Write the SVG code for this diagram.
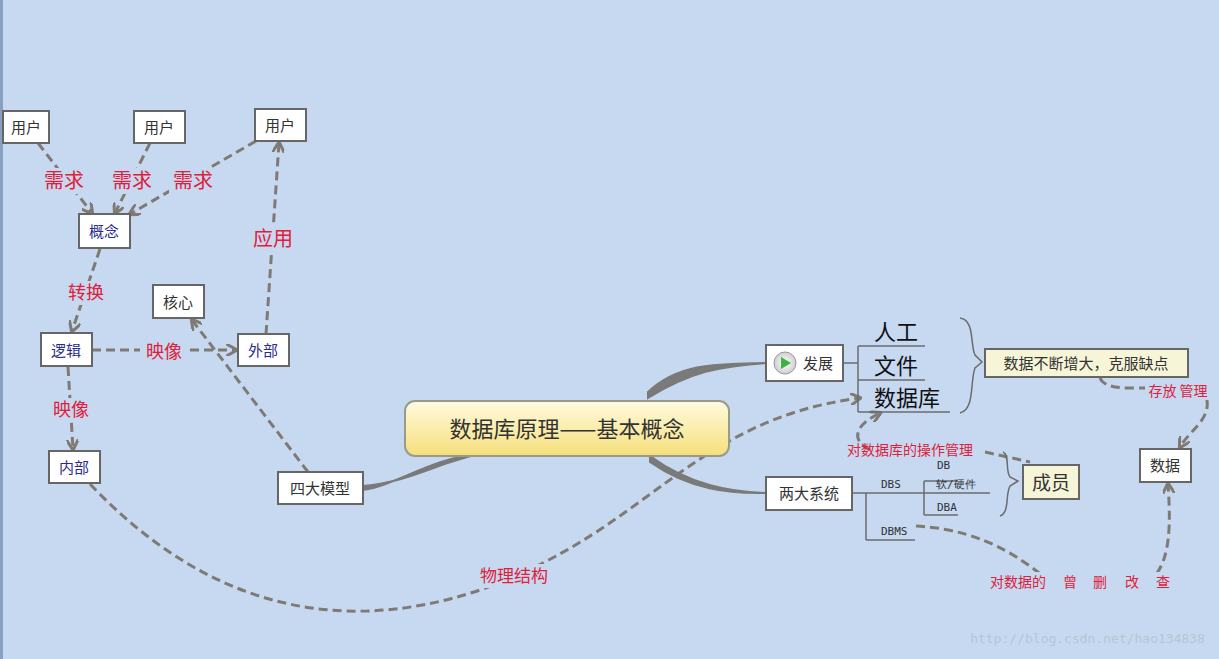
<svg xmlns="http://www.w3.org/2000/svg" width="1219" height="659" viewBox="0 0 1219 659">
<defs>
<linearGradient id="cg" x1="0" y1="0" x2="0" y2="1"><stop offset="0" stop-color="#fffbe0"/><stop offset="1" stop-color="#f6df7a"/></linearGradient>
<radialGradient id="pg"><stop offset="0" stop-color="#fff"/><stop offset="1" stop-color="#cfcfcf"/></radialGradient>
<marker id="ah" viewBox="0 0 10 10" refX="8" refY="5" markerWidth="4" markerHeight="4" orient="auto"><path d="M0,0 L9,5 L0,10" fill="none" stroke="#7f7a74" stroke-width="2.5"/></marker>
</defs>
<style>
.n{fill:#fff;stroke:#666;stroke-width:2}
.y{fill:#f6f5d8;stroke:#666;stroke-width:2}
.t{font-family:"Noto Sans CJK SC",sans-serif;font-size:15px;fill:#333;text-anchor:middle}
.b{fill:#2b2b8c}
.r{font-family:"Noto Sans CJK SC",sans-serif;fill:#e0203a;text-anchor:middle}
.d{fill:none;stroke:#7f7a74;stroke-width:3;stroke-dasharray:9 5}
.s{fill:none;stroke:#6c6c6c;stroke-width:1.5}
.m{font-family:"DejaVu Sans Mono",monospace;font-size:11px;fill:#333}
.bg{fill:#c6d9f1}
</style>
<rect width="1219" height="659" fill="#c6d9f1"/>
<rect width="3" height="659" fill="#8aa0c0"/>
<g id="connectors">
<path d="M38,143 L92,213" class="d" marker-end="url(#ah)"/>
<path d="M150,143 L115,213" class="d" marker-end="url(#ah)"/>
<path d="M256,141 L130,214" class="d" marker-end="url(#ah)"/>
<path d="M100,249 L72,331" class="d" marker-end="url(#ah)"/>
<path d="M92,350 L236,350" class="d" marker-end="url(#ah)"/>
<path d="M68,367 L73,449" class="d" marker-end="url(#ah)"/>
<path d="M266,334 L279,143" class="d" marker-end="url(#ah)"/>
<path d="M308,472 L192,320" class="d" marker-end="url(#ah)"/>
<path d="M90,484 C200,600 330,640 480,590 C650,530 690,420 860,398" class="d" marker-end="url(#ah)"/>
<path d="M870,450 C850,440 855,425 880,413" class="d" marker-end="url(#ah)"/>
<path d="M985,452 L1030,462" class="d"/>
<path d="M1100,378 C1105,390 1130,388 1145,388" class="d"/>
<path d="M1207,400 C1210,420 1190,430 1180,447" class="d" marker-end="url(#ah)"/>
<path d="M916,526 C990,530 1030,565 1060,590" class="d"/>
<path d="M1120,590 C1170,590 1172,540 1168,484" class="d" marker-end="url(#ah)"/>
<path d="M363,490 C400,484 430,458 476,455 C440,462 410,482 363,486Z" fill="#7a7a7a" stroke="#7a7a7a" stroke-width="2"/>
<path d="M648,392 C680,362 720,364 766,363 C720,366 690,372 648,398Z" fill="#7a7a7a" stroke="#7a7a7a" stroke-width="2"/>
<path d="M650,456 C690,485 730,492 766,493 C730,494 690,490 650,462Z" fill="#7a7a7a" stroke="#7a7a7a" stroke-width="2"/>
<path d="M843,363 L858,363 M858,346 L858,412 M858,346 L925,346 M858,380 L925,380 M858,412 L950,412" class="s"/>
<path d="M852,493 L866,493 M866,493 L866,540 M866,493 L924,493 M924,481 L924,515 M924,481 L958,481 M924,493 L990,493 M924,515 L958,515 M866,540 L915,540" class="s"/>
<path d="M960,318 C975,320 970,345 975,355 L982,362 L975,368 C970,380 975,410 960,413" class="s"/>
<path d="M1003,452 C1010,455 1005,470 1010,477 L1018,481 L1010,486 C1005,495 1010,512 1000,516" class="s"/>
</g>
<g id="u1"><rect x="3" y="111" width="46" height="32" class="n"/><text x="26" y="133" class="t">用户</text></g>
<g id="u2"><rect x="134" y="111" width="51" height="32" class="n"/><text x="159" y="133" class="t">用户</text></g>
<g id="u3"><rect x="255" y="109" width="51" height="32" class="n"/><text x="280" y="131" class="t">用户</text></g>
<g id="gn"><rect x="79" y="214" width="51" height="34" class="n"/><text x="104" y="237" class="t b">概念</text></g>
<g id="hx"><rect x="153" y="285" width="51" height="33" class="n"/><text x="178" y="308" class="t">核心</text></g>
<g id="lj"><rect x="41" y="333" width="51" height="33" class="n"/><text x="66" y="356" class="t b">逻辑</text></g>
<g id="wb"><rect x="238" y="334" width="51" height="32" class="n"/><text x="263" y="356" class="t b">外部</text></g>
<g id="nb"><rect x="49" y="451" width="51" height="32" class="n"/><text x="74" y="473" class="t b">内部</text></g>
<g id="sd"><rect x="278" y="472" width="85" height="32" class="n"/><text x="320" y="494" class="t">四大模型</text></g>
<g id="center"><rect x="405" y="401" width="324" height="55" rx="10" fill="url(#cg)" stroke="#9a9a8a" stroke-width="2"/><text x="567" y="437" class="t" style="font-size:22px">数据库原理——基本概念</text></g>
<g id="fz"><rect x="766" y="345" width="77" height="36" class="n"/><circle cx="785" cy="363" r="11" fill="url(#pg)" stroke="#999"/><path d="M781,357 L791,363 L781,369Z" fill="#3fb23f"/><text x="818" y="369" class="t">发展</text></g>
<g id="l1"><text x="896" y="340" class="t" style="font-size:22px;fill:#111">人工</text></g>
<g id="l2"><text x="896" y="374" class="t" style="font-size:22px;fill:#111">文件</text></g>
<g id="l3"><text x="907" y="406" class="t" style="font-size:22px;fill:#111">数据库</text></g>
<g id="qd"><rect x="985" y="349" width="203" height="28" class="y"/><text x="1086" y="369" class="t">数据不断增大，克服缺点</text></g>
<g id="lx"><rect x="766" y="477" width="86" height="33" class="n"/><text x="809" y="499" class="t">两大系统</text></g>
<g id="dbs"><text x="881" y="488" class="m">DBS</text><text x="937" y="469" class="m">DB</text><text x="936" y="488" class="m">软/硬件</text><text x="937" y="511" class="m">DBA</text><text x="881" y="535" class="m">DBMS</text></g>
<g id="cy"><rect x="1023" y="465" width="56" height="34" class="y"/><text x="1051" y="490" class="t" style="font-size:19px">成员</text></g>
<g id="sj"><rect x="1140" y="449" width="51" height="33" class="n"/><text x="1165" y="471" class="t">数据</text></g>
<g id="labels">
<rect x="40" y="168" width="48" height="26" class="bg"/>
<rect x="108" y="168" width="48" height="26" class="bg"/>
<rect x="169" y="168" width="48" height="26" class="bg"/>
<text x="64" y="188" class="r" style="font-size:20px">需求</text>
<text x="132" y="188" class="r" style="font-size:20px">需求</text>
<text x="193" y="188" class="r" style="font-size:20px">需求</text>
<rect x="64" y="281" width="44" height="24" class="bg"/>
<text x="86" y="299" class="r" style="font-size:18px">转换</text>
<rect x="140" y="339" width="48" height="22" class="bg"/>
<text x="164" y="358" class="r" style="font-size:18px">映像</text>
<rect x="49" y="398" width="44" height="24" class="bg"/>
<text x="71" y="416" class="r" style="font-size:18px">映像</text>
<rect x="249" y="226" width="48" height="26" class="bg"/>
<text x="273" y="246" class="r" style="font-size:20px">应用</text>
<rect x="472" y="564" width="84" height="24" class="bg"/>
<text x="514" y="582" class="r" style="font-size:17px">物理结构</text>
<text x="910" y="455" class="r" style="font-size:14px">对数据库的操作管理</text>
<text x="1178" y="396" class="r" style="font-size:14px">存放 管理</text>
<rect x="988" y="572" width="185" height="20" class="bg"/>
<text y="587" class="r" style="font-size:14px;text-anchor:start"><tspan x="990">对数据的</tspan><tspan x="1063">曾</tspan><tspan x="1093">删</tspan><tspan x="1125">改</tspan><tspan x="1156">查</tspan></text>
<text x="1205" y="643" style="font-family:'DejaVu Sans Mono',monospace;font-size:13px;fill:#b8c4d4;text-anchor:end">http://blog.csdn.net/hao134838</text>
</g>
</svg>
